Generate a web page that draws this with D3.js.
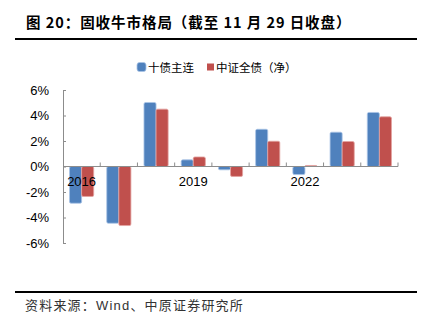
<!DOCTYPE html>
<html>
<head>
<meta charset="utf-8">
<script src="https://cdn.jsdelivr.net/npm/d3@7"></script>
<style>
  html, body { margin: 0; padding: 0; background: #fff; }
  svg { display: block; }
  text { font-family: "Liberation Sans", Arial, "Noto Sans CJK SC", sans-serif; }
  .cjk { font-family: "Noto Sans CJK SC", sans-serif; }
</style>
</head>
<body>
<div id="chart"></div>
<script>
var years = ['2016', '2017', '2018', '2019', '2020', '2021', '2022', '2023', '2024'];
var shownYears = ['2016', '2019', '2022'];
var seriesNames = ['十债主连', '中证全债（净）'];
var treasuryFut = [-2.88, -4.45, 5.02, 0.52, -0.26, 2.92, -0.63, 2.69, 4.24]; // 十债主连
var bondIndex = [-2.35, -4.63, 4.50, 0.75, -0.78, 1.98, 0.08, 1.96, 3.90];   // 中证全债（净）
var yTicks = [-6, -4, -2, 0, 2, 4, 6];

var width = 432, height = 324;
var colors = ['#4f81bd', '#c0504d'];
var strokes = ['#a9c4e6', '#e3a3a1'];

var svg = d3.select('#chart').append('svg')
  .attr('width', width)
  .attr('height', height);

// title + rule
svg.append('text')
  .attr('class', 'cjk')
  .attr('x', 26)
  .attr('y', 28)
  .attr('font-size', 14.5)
  .attr('font-weight', 'bold')
  .attr('letter-spacing', 0.95)
  .attr('fill', '#000')
  .text('图 20：固收牛市格局（截至 11 月 29 日收盘）');

svg.append('line')
  .attr('x1', 15).attr('x2', 417)
  .attr('y1', 39).attr('y2', 39)
  .attr('stroke', '#000').attr('stroke-width', 2);

// scales
var x = d3.scaleBand().domain(years).range([63, 398]).padding(0);
var xInner = d3.scaleBand().domain(d3.range(2)).range([0, x.bandwidth()])
  .paddingInner(0).paddingOuter(0.54);
var y = d3.scaleLinear().domain([-6, 6]).range([243, 90]);

var rows = years.map(function(yr, i) {
  return { year: yr, vals: [treasuryFut[i], bondIndex[i]] };
});

// bars
var groups = svg.selectAll('.grp')
  .data(rows)
  .enter().append('g')
  .attr('class', 'grp')
  .attr('transform', function(d) { return 'translate(' + x(d.year) + ',0)'; });

groups.selectAll('rect')
  .data(function(d) { return d.vals; })
  .enter().append('rect')
  .attr('x', function(d, i) { return xInner(i); })
  .attr('y', function(d) { return y(Math.max(0, d)); })
  .attr('width', xInner.bandwidth())
  .attr('height', function(d) { return Math.abs(y(d) - y(0)); })
  .attr('rx', 1.5)
  .attr('fill', function(d, i) { return colors[i]; })
  .attr('stroke', function(d, i) { return strokes[i]; })
  .attr('stroke-width', 0.8);

// y axis (ticks point inward)
var yAxis = svg.append('g')
  .attr('transform', 'translate(63,0)')
  .call(d3.axisLeft(y).tickValues(yTicks).tickSize(-3).tickPadding(14)
    .tickFormat(function(d) { return d + '%'; }));
yAxis.select('.domain').attr('stroke', '#8c8c8c');
yAxis.selectAll('.tick line').attr('stroke', '#8c8c8c');
yAxis.selectAll('.tick text')
  .attr('font-size', 13)
  .attr('fill', '#000')
  .attr('font-family', '"Liberation Sans", Arial, sans-serif');

// x axis along zero line, ticks at band edges
var xEdges = years.map(function(d) { return x(d); }).concat([x.range()[1]]);
svg.append('line')
  .attr('x1', 63).attr('x2', 398)
  .attr('y1', y(0)).attr('y2', y(0))
  .attr('stroke', '#8c8c8c');
svg.selectAll('.xtick')
  .data(xEdges.slice(1))
  .enter().append('line')
  .attr('class', 'xtick')
  .attr('x1', function(d) { return d; }).attr('x2', function(d) { return d; })
  .attr('y1', y(0)).attr('y2', y(0) - 4)
  .attr('stroke', '#8c8c8c');

svg.selectAll('.xlab')
  .data(shownYears)
  .enter().append('text')
  .attr('class', 'xlab')
  .attr('x', function(d) { return x(d) + x.bandwidth() / 2; })
  .attr('y', 186)
  .attr('text-anchor', 'middle')
  .attr('font-size', 13)
  .attr('fill', '#000')
  .text(function(d) { return d; });

// legend
var legend = svg.append('g');
legend.append('rect')
  .attr('x', 137).attr('y', 62.5).attr('width', 9).attr('height', 9)
  .attr('rx', 2.5).attr('fill', colors[0]).attr('stroke', strokes[0]).attr('stroke-width', 0.8);
legend.append('text')
  .attr('class', 'cjk')
  .attr('x', 148).attr('y', 71.5)
  .attr('font-size', 11.5).attr('fill', '#000')
  .text(seriesNames[0]);
legend.append('rect')
  .attr('x', 207).attr('y', 63.5).attr('width', 7).attr('height', 7)
  .attr('fill', colors[1]);
legend.append('text')
  .attr('class', 'cjk')
  .attr('x', 216).attr('y', 71.5)
  .attr('font-size', 11.5).attr('fill', '#000')
  .text(seriesNames[1]);

// source rule + note
svg.append('line')
  .attr('x1', 15).attr('x2', 417)
  .attr('y1', 292).attr('y2', 292)
  .attr('stroke', '#000').attr('stroke-width', 2);

svg.append('text')
  .attr('x', 25)
  .attr('y', 310)
  .attr('font-size', 13)
  .attr('letter-spacing', 1.2)
  .attr('fill', '#333')
  .text('资料来源：Wind、中原证券研究所');
</script>
</body>
</html>
